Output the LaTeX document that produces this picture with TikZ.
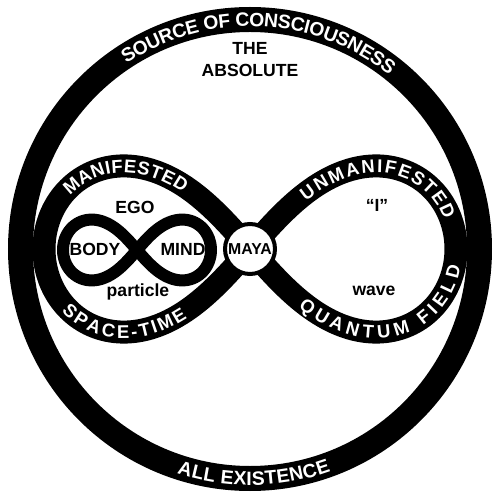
\documentclass[tikz,border=0pt]{standalone}
\usepackage{fontspec}
\setmainfont{Liberation Sans}
\usetikzlibrary{decorations.text}

\newcommand\ringfont{\color{white}\bfseries\fontsize{11}{13}\selectfont}
\newcommand\bandfont{\color{white}\bfseries\fontsize{10.5}{13}\selectfont}

\tikzset{
  ringline/.style={line width=0.5cm},
  bandline/.style={line width=0.46cm},
  knotline/.style={line width=0.24cm},
  wordtext/.style={font=\bfseries\fontsize{10}{12}\selectfont, anchor=base, inner sep=0pt},
  ringtext/.style={decorate, decoration={text along path, text align=center,
      raise=-3.9pt, text={|\ringfont|#1}}},
  bandtext/.style={decorate, decoration={text along path, text align=fit to path,
      raise=-3.7pt, text={|\bandfont|#1}}},
}

\begin{document}
\begin{tikzpicture}[x=0.02cm, y=0.02cm]
  \path[use as bounding box, fill=white] (-250,-251) rectangle (250,249);

  % Outer ring - all existence
  \draw[ringline] (0,0) circle[radius=229.5];
  \path[ringtext=SOURCE OF CONSCIOUSNESS] (167:229.5) arc[start angle=167, end angle=8, radius=229.5];
  \path[ringtext=ALL EXISTENCE] (221:229.5) arc[start angle=221, end angle=321, radius=229.5];

  % Big infinity
  \draw[bandline] plot[domain=0:358, samples=180, smooth cycle, variable=\t]
    ({206*cos(\t)/(1+sin(\t)^2)}, {235*sin(\t)*cos(\t)/(1+sin(\t)^2)});
  \path[bandtext=MANIFESTED] plot[domain=196:238, samples=43, variable=\t]
    ({206*cos(\t)/(1+sin(\t)^2)}, {235*sin(\t)*cos(\t)/(1+sin(\t)^2)});
  \path[bandtext=SPACE-TIME] plot[domain=16:57, samples=42, variable=\t]
    ({-206*cos(\t)/(1+sin(\t)^2)}, {-235*sin(\t)*cos(\t)/(1+sin(\t)^2)});
  \path[bandtext=UNMANIFESTED] plot[domain=27:82, samples=56, variable=\t]
    ({206*sin(\t)/(1+cos(\t)^2)}, {235*sin(\t)*cos(\t)/(1+cos(\t)^2)});
  \path[bandtext=QUANTUM FIELD] plot[domain=297:356, samples=60, variable=\t]
    ({206*cos(\t)/(1+sin(\t)^2)}, {235*sin(\t)*cos(\t)/(1+sin(\t)^2)});

  % Small infinity - body and mind
  \draw[knotline] plot[domain=0:358, samples=180, smooth cycle, variable=\t]
    ({-113+74*cos(\t)/(1+sin(\t)^2)}, {-1+86*sin(\t)*cos(\t)/(1+sin(\t)^2)});

  % Crossing
  \node[draw, circle, line width=0.08cm, fill=white, minimum size=1cm, inner sep=0pt,
    font=\bfseries\fontsize{9}{11}\selectfont] (maya) at (0,0) {MAYA};

  % Words
  \node[wordtext] (the) at (0,194) {THE};
  \node[wordtext] (absolute) at (0,172) {ABSOLUTE};
  \node[wordtext] (ego) at (-115,35) {EGO};
  \node[wordtext] (body) at (-155,-7) {BODY};
  \node[wordtext] (mind) at (-67,-7) {MIND};
  \node[wordtext] (particle) at (-112,-48) {particle};
  \node[wordtext] (self) at (127,37) {“I”};
  \node[wordtext] (wave) at (124,-47) {wave};
\end{tikzpicture}
\end{document}
